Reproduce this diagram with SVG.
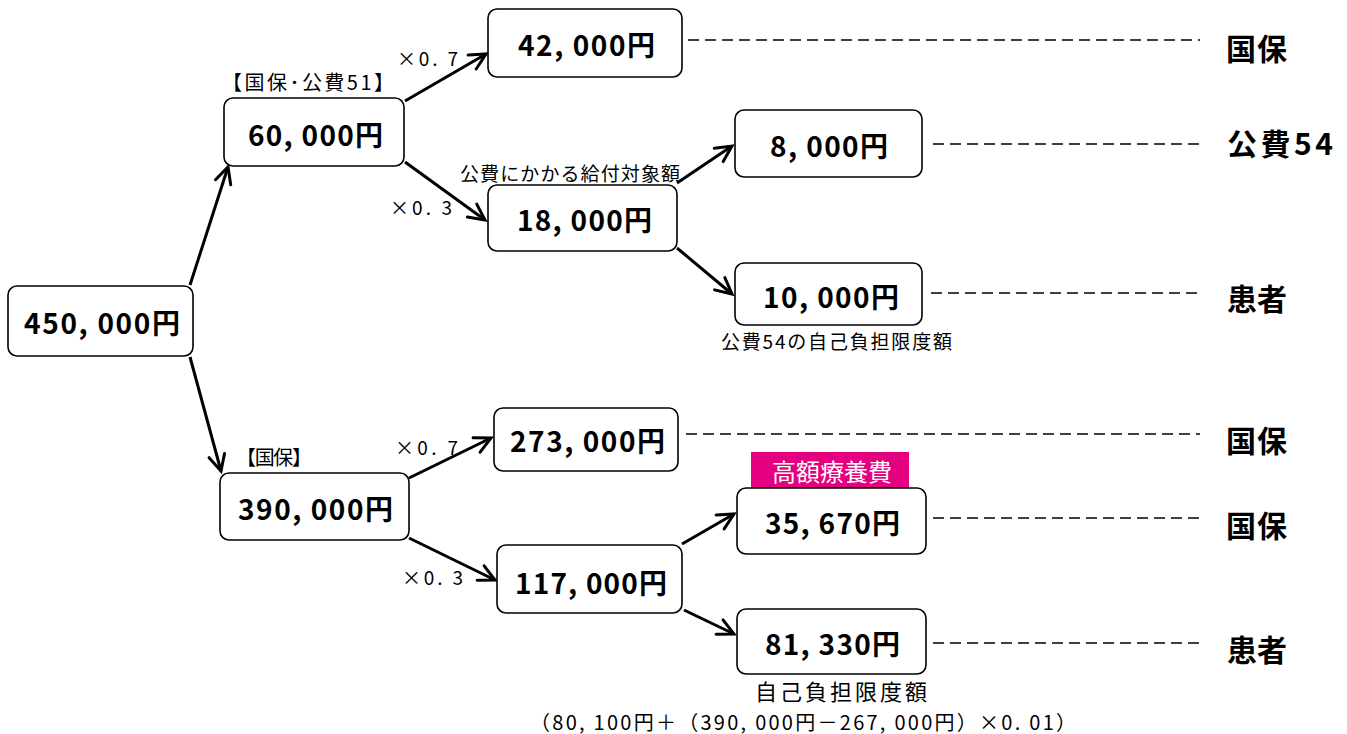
<svg xmlns="http://www.w3.org/2000/svg" width="1347" height="734" viewBox="0 0 1347 734">
<defs>
<marker id="arr" markerUnits="userSpaceOnUse" markerWidth="22" markerHeight="22" viewBox="0 0 22 22" refX="19" refY="11" orient="auto">
<path d="M3,3 L19,11 L3,19" fill="none" stroke="#000" stroke-width="3" stroke-linejoin="miter" stroke-linecap="round"/>
</marker>
<style>
.box{fill:#fff;stroke:#000;stroke-width:1.6}
.val{font-family:"Noto Sans CJK JP","Liberation Sans",sans-serif;font-weight:bold;font-size:28px;dominant-baseline:central}
.lbl{font-family:"Noto Sans CJK JP","Liberation Sans",sans-serif;font-size:19px;dominant-baseline:central}
.mul{font-family:"Noto Sans CJK JP","Liberation Sans",sans-serif;font-size:19px;dominant-baseline:central}
.dest{font-family:"Noto Sans CJK JP","Liberation Sans",sans-serif;font-weight:bold;font-size:30px;dominant-baseline:central}
.arrow{stroke:#000;stroke-width:3;fill:none;marker-end:url(#arr)}
.dash{stroke:#000;stroke-width:1.5;stroke-dasharray:11 6;fill:none}
</style>
</defs>
<rect width="1347" height="734" fill="#fff"/>

<g id="connectors">
<line class="arrow" x1="190" y1="285" x2="228" y2="167"/>
<line class="arrow" x1="190" y1="357" x2="221" y2="471"/>
<line class="arrow" x1="405" y1="101" x2="486" y2="54"/>
<line class="arrow" x1="405" y1="162" x2="485" y2="220"/>
<line class="arrow" x1="677" y1="183" x2="732" y2="146"/>
<line class="arrow" x1="677" y1="248" x2="732" y2="294"/>
<line class="arrow" x1="409" y1="478" x2="491" y2="438"/>
<line class="arrow" x1="409" y1="538" x2="495" y2="580"/>
<line class="arrow" x1="682" y1="544" x2="734" y2="514"/>
<line class="arrow" x1="684" y1="610" x2="734" y2="634"/>
<line class="dash" x1="688" y1="40" x2="1200" y2="40"/>
<line class="dash" x1="933" y1="144" x2="1200" y2="144"/>
<line class="dash" x1="931" y1="293" x2="1200" y2="293"/>
<line class="dash" x1="686" y1="434" x2="1200" y2="434"/>
<line class="dash" x1="933" y1="518" x2="1200" y2="518"/>
<line class="dash" x1="933" y1="643" x2="1200" y2="643"/>
</g>

<g id="n450">
<rect class="box" x="8" y="286" width="185" height="70" rx="9"/>
<text class="val" x="24" y="322" textLength="156" lengthAdjust="spacing">450, 000円</text>
</g>
<g id="n60">
<rect class="box" x="224" y="98" width="180" height="68" rx="9"/>
<text class="val" x="248" y="134" textLength="135" lengthAdjust="spacing">60, 000円</text>
<text class="lbl" x="222" y="81" textLength="172" lengthAdjust="spacing" style="font-size:20px">【国保･公費51】</text>
</g>
<g id="n42">
<rect class="box" x="488" y="9" width="194" height="68" rx="9"/>
<text class="val" x="518" y="44" textLength="137" lengthAdjust="spacing">42, 000円</text>
<text class="mul" x="397" y="57" textLength="61" lengthAdjust="spacing">×0. 7</text>
</g>
<g id="n18">
<rect class="box" x="488" y="185" width="189" height="66" rx="9"/>
<text class="val" x="517" y="219" textLength="135" lengthAdjust="spacing">18, 000円</text>
<text class="mul" x="390" y="206" textLength="62" lengthAdjust="spacing">×0. 3</text>
<text class="lbl" x="460" y="172" textLength="220" lengthAdjust="spacing">公費にかかる給付対象額</text>
</g>
<g id="n8">
<rect class="box" x="735" y="110" width="187" height="67" rx="9"/>
<text class="val" x="770" y="145" textLength="118" lengthAdjust="spacing">8, 000円</text>
</g>
<g id="n10">
<rect class="box" x="735" y="263" width="187" height="62" rx="9"/>
<text class="val" x="763" y="296" textLength="136" lengthAdjust="spacing">10, 000円</text>
<text class="lbl" x="721" y="340" textLength="231" lengthAdjust="spacing">公費54の自己負担限度額</text>
</g>
<g id="n390">
<rect class="box" x="220" y="473" width="189" height="67" rx="9"/>
<text class="val" x="238" y="508" textLength="155" lengthAdjust="spacing">390, 000円</text>
<text class="lbl" x="236" y="456" textLength="76" lengthAdjust="spacing" style="font-size:20px">【国保】</text>
</g>
<g id="n273">
<rect class="box" x="494" y="408" width="184" height="63" rx="9"/>
<text class="val" x="510" y="440" textLength="155" lengthAdjust="spacing">273, 000円</text>
<text class="mul" x="395" y="446" textLength="63" lengthAdjust="spacing">×0. 7</text>
</g>
<g id="n117">
<rect class="box" x="497" y="545" width="185" height="68" rx="9"/>
<text class="val" x="515" y="582" textLength="152" lengthAdjust="spacing">117, 000円</text>
<text class="mul" x="402" y="576" textLength="61" lengthAdjust="spacing">×0. 3</text>
</g>
<g id="n35670">
<rect x="751" y="452" width="158" height="36" fill="#e4007f"/>
<text class="lbl" x="832" y="470" text-anchor="middle" fill="#fff" style="font-size:24px">高額療養費</text>
<rect class="box" x="737" y="488" width="189" height="66" rx="9"/>
<text class="val" x="765" y="522" textLength="135" lengthAdjust="spacing">35, 670円</text>
</g>
<g id="n81330">
<rect class="box" x="737" y="609" width="189" height="65" rx="9"/>
<text class="val" x="765" y="643" textLength="135" lengthAdjust="spacing">81, 330円</text>
<text class="lbl" x="755" y="690" textLength="172" lengthAdjust="spacing" style="font-size:22px">自己負担限度額</text>
<text class="lbl" x="530" y="721" textLength="546" lengthAdjust="spacing" style="font-size:20px">（80, 100円＋（390, 000円－267, 000円）×0. 01）</text>
</g>

<g id="dest1"><text class="dest" x="1226" y="47" textLength="61" lengthAdjust="spacing">国保</text></g>
<g id="dest2"><text class="dest" x="1227" y="142" textLength="106" lengthAdjust="spacing">公費54</text></g>
<g id="dest3"><text class="dest" x="1227" y="297" textLength="60" lengthAdjust="spacing">患者</text></g>
<g id="dest4"><text class="dest" x="1226" y="439" textLength="61" lengthAdjust="spacing">国保</text></g>
<g id="dest5"><text class="dest" x="1226" y="524" textLength="61" lengthAdjust="spacing">国保</text></g>
<g id="dest6"><text class="dest" x="1227" y="648" textLength="60" lengthAdjust="spacing">患者</text></g>
</svg>
